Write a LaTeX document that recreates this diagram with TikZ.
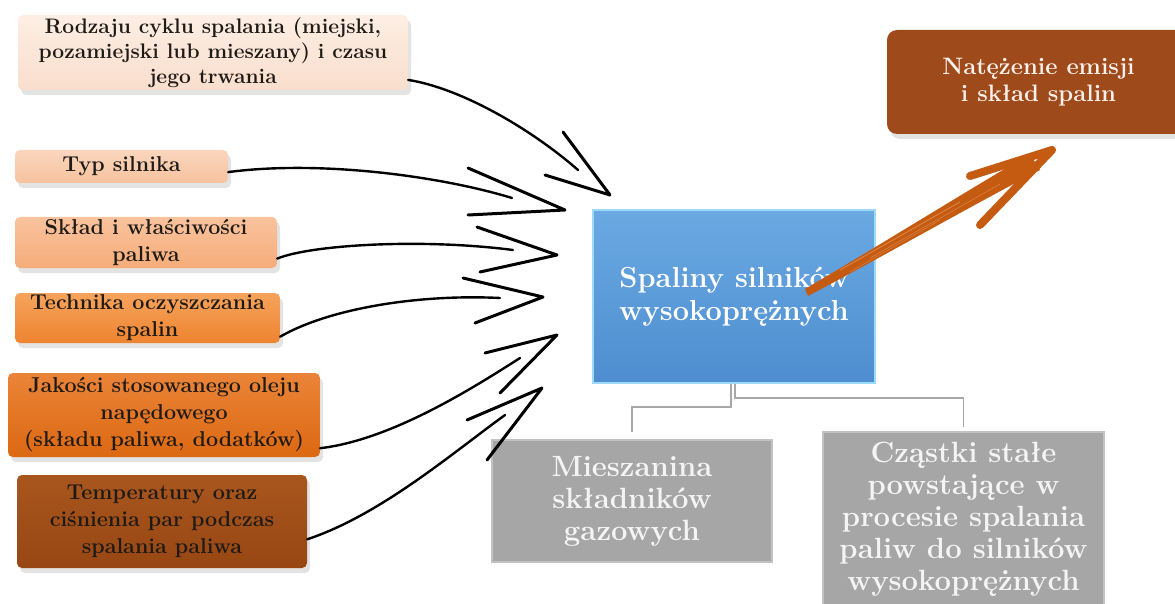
\documentclass[tikz,border=0pt]{standalone}
\usepackage{fontspec}
\usetikzlibrary{shadows,calc}
\definecolor{txt}{HTML}{1E1A16}
\definecolor{conncol}{HTML}{A8A8A8}
\definecolor{orng}{HTML}{C55A11}
\definecolor{orngl}{HTML}{E99A62}
\definecolor{blue1}{HTML}{6AA9E2}
\definecolor{blue2}{HTML}{4E8ED0}
\definecolor{blueedge}{HTML}{9DDAFA}
\definecolor{grayfill}{HTML}{A6A6A6}
\definecolor{grayedge}{HTML}{C2C2C2}
\definecolor{graytxt}{HTML}{F4F4F4}
\definecolor{brownfill}{HTML}{9E4A1B}
\definecolor{browntxt}{HTML}{FBF1EA}
\begin{document}
\begin{tikzpicture}[x=1pt,y=-1pt,
  shd/.style={drop shadow={shadow xshift=3pt,shadow yshift=-5pt,opacity=.22}},
  lbox/.style={rounded corners=5pt,inner sep=0pt,align=center,text=txt,shd,
    font=\bfseries\fontsize{21.5}{27}\selectfont},
  bluebox/.style={inner sep=0pt,align=center,text=white,top color=blue1,bottom color=blue2,
    draw=blueedge,line width=2pt,font=\bfseries\fontsize{29}{33}\selectfont},
  graybox/.style={inner sep=0pt,align=center,text=graytxt,fill=grayfill,draw=grayedge,
    line width=2pt,font=\bfseries\fontsize{29.3}{32}\selectfont},
  brownbox/.style={rounded corners=10pt,inner sep=0pt,align=center,text=browntxt,fill=brownfill,shd,
    font=\bfseries\fontsize{23.8}{27}\selectfont},
  shaft/.style={line width=2.4pt,line cap=round,black},
  barb/.style={line width=3pt,line cap=round,line join=round,black},
  conn/.style={conncol,line width=1.2pt}]
\useasboundingbox (0,0) rectangle (1175,604);
\fill[white] (0,0) rectangle (1175,604);

% left boxes
\node[lbox,top color={rgb,255:red,253;green,238;blue,228},bottom color={rgb,255:red,249;green,222;blue,204},
  minimum width=390pt,minimum height=75pt,font=\bfseries\fontsize{21}{25}\selectfont] (b1) at (213,52.5)
  {Rodzaju cyklu spalania (miejski,\\pozamiejski lub mieszany) i czasu\\jego trwania};
\node[lbox,top color={rgb,255:red,250;green,214;blue,189},bottom color={rgb,255:red,246;green,194;blue,158},
  minimum width=213pt,minimum height=33pt] (b2) at (121.5,166.5) {Typ silnika};
\node[lbox,top color={rgb,255:red,249;green,195;blue,158},bottom color={rgb,255:red,245;green,172;blue,121},
  minimum width=262pt,minimum height=51pt] (b3) at (146,242.5) {Skład i właściwości\\paliwa};
\node[lbox,top color={rgb,255:red,246;green,163;blue,92},bottom color={rgb,255:red,238;green,132;blue,48},
  minimum width=265pt,minimum height=50pt] (b4) at (147.5,318) {Technika oczyszczania\\spalin};
\node[lbox,top color={rgb,255:red,235;green,132;blue,56},bottom color={rgb,255:red,220;green,104;blue,18},
  minimum width=312pt,minimum height=84pt] (b5) at (164,415) {Jakości stosowanego oleju\\napędowego\\(składu paliwa, dodatków)};
\node[lbox,top color={rgb,255:red,169;green,86;blue,30},bottom color={rgb,255:red,151;green,71;blue,19},
  minimum width=290pt,minimum height=93pt] (b6) at (162,521.5) {Temperatury oraz\\ciśnienia par podczas\\spalania paliwa};

% central and right boxes
\node[bluebox,minimum width=282pt,minimum height=173pt] (blue) at (734,296.5) {Spaliny silników\\wysokoprężnych};
\node[brownbox,minimum width=303pt,minimum height=104pt] (res) at (1038.5,82) {Natężenie emisji\\i skład spalin};
\node[graybox,minimum width=280pt,minimum height=122pt] (g1) at (632,501) {Mieszanina\\składników\\gazowych};
\node[graybox,minimum width=281pt,minimum height=174pt] (g2) at (963.5,519) {Cząstki stałe\\powstające w\\procesie spalania\\paliw do silników\\wysokoprężnych};

% tree connectors
\draw[conn,shorten >=7pt] ([xshift=-3pt]blue.south) -- ++(0,23) -| (g1.north);
\draw[conn,shorten >=4pt] ([xshift=1pt]blue.south) -- ++(0,14) -| (g2.north);

% hand-drawn arrows
\coordinate (e1) at (578,170); \coordinate (t1) at (610,195); \coordinate (u1) at (563,132); \coordinate (l1) at (545,175);
\coordinate (e2) at (512,198); \coordinate (t2) at (565,210); \coordinate (u2) at (468,168); \coordinate (l2) at (468,215);
\coordinate (e3) at (513,250); \coordinate (t3) at (557,255); \coordinate (u3) at (477,227); \coordinate (l3) at (480,272);
\coordinate (e4) at (500,298); \coordinate (t4) at (543,297); \coordinate (u4) at (463,278); \coordinate (l4) at (475,323);
\coordinate (e5) at (520,358); \coordinate (t5) at (557,335); \coordinate (u5) at (485,353); \coordinate (l5) at (500,393);
\coordinate (e6) at (505,415); \coordinate (t6) at (542,388); \coordinate (u6) at (467,420); \coordinate (l6) at (487,460);

\draw[shaft] (b1.-8) .. controls (460,88) and (530,128) .. (e1);
\draw[barb] (u1) -- (t1) -- (l1);
\draw[shaft] (b2.-3) .. controls (320,160) and (440,176) .. (e2);
\draw[barb] (u2) -- (t2) -- (l2);
\draw[shaft] (b3.-7.6) .. controls (310,245) and (420,238) .. (e3);
\draw[barb] (u3) -- (t3) -- (l3);
\draw[shaft] (b4.-8.2) .. controls (330,308) and (420,294) .. (e4);
\draw[barb] (u4) -- (t4) -- (l4);
\draw[shaft] (b5.-12.6) .. controls (390,440) and (470,390) .. (e5);
\draw[barb] (u5) -- (t5) -- (l5);
\draw[shaft] (b6.-7.3) .. controls (380,515) and (450,455) .. (e6);
\draw[barb] (u6) -- (t6) -- (l6);

% orange arrow to result
\coordinate (os) at (806,292);
\coordinate (ot) at (1052,150);
\coordinate (ou) at (970,176);
\coordinate (ol) at (980,225);
\fill[orng] (805,289) .. controls (880,245) and (960,195) .. (1030,154)
  -- (1040,170) .. controls (960,212) and (880,258) .. (808,296) -- cycle;
\draw[orng,line width=8pt,line cap=round,line join=round] (ou) -- (ot) -- (ol);
\draw[orngl,line width=0.8pt,opacity=.7] (840,270) -- (960,202);
\draw[orngl,line width=0.6pt,opacity=.6] (870,258) -- (1000,184);
\draw[orngl,line width=0.6pt,opacity=.5] (850,272) -- (940,220);
\end{tikzpicture}
\end{document}
